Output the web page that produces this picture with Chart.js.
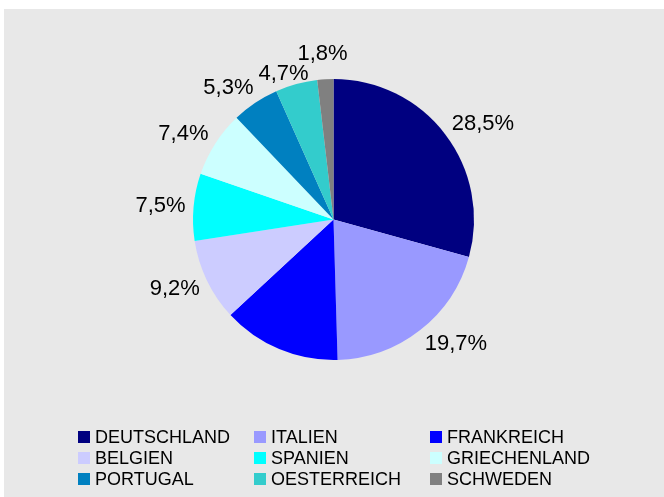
<!DOCTYPE html>
<html>
<head>
<meta charset="utf-8">
<script src="https://cdn.jsdelivr.net/npm/chart.js@4"></script>
<style>
  html, body { margin: 0; padding: 0; background: #fff; }
  #wrap { width: 664px; height: 497px; }
</style>
</head>
<body>
<div id="wrap"><canvas id="pieChart" width="664" height="497"></canvas></div>
<script>
const countries = ["DEUTSCHLAND", "ITALIEN", "FRANKREICH", "BELGIEN", "SPANIEN", "GRIECHENLAND", "PORTUGAL", "OESTERREICH", "SCHWEDEN"];
// shares in %, Frankreich has no label in the original, its size read from the slice
const shares = [28.5, 19.7, 13.2, 9.2, 7.5, 7.4, 5.3, 4.7, 1.8];
const colors = ["#000080", "#9999ff", "#0000ff", "#ccccff", "#00ffff", "#ccffff", "#0080c0", "#33cccc", "#808080"];
const noLabel = ["FRANKREICH"];

const FONT = "'Liberation Sans', Arial, sans-serif";

// grey panel behind everything
const panel = {
    id: "panel",
    beforeDraw(chart) {
        const ctx = chart.ctx;
        ctx.save();
        ctx.fillStyle = "#e8e8e8";
        ctx.fillRect(4, 9, chart.width - 4, chart.height - 9);
        ctx.restore();
    }
};

// percentage labels outside the slices (box hangs off an anchor just outside the rim)
const outsideLabels = {
    id: "outsideLabels",
    afterDatasetsDraw(chart) {
        const ctx = chart.ctx;
        const meta = chart.getDatasetMeta(0);
        ctx.save();
        ctx.font = "22px " + FONT;
        ctx.fillStyle = "#000";
        ctx.textAlign = "center";
        ctx.textBaseline = "middle";
        const boxH = 20;
        const items = [];
        meta.data.forEach((arc, i) => {
            if (noLabel.includes(chart.data.labels[i])) return;
            const p = arc.getProps(["x", "y", "startAngle", "endAngle", "outerRadius"], true);
            const mid = (p.startAngle + p.endAngle) / 2;
            const txt = shares[i].toFixed(1).replace(".", ",") + "%";
            const w = ctx.measureText(txt).width;
            const c = Math.cos(mid), s = Math.sin(mid);
            const r = p.outerRadius + 8;
            const kx = Math.max(-1, Math.min(1, c * 1.6));
            items.push({
                txt, w,
                x: p.x + r * c + kx * w / 2,
                y: p.y + r * s + s * boxH / 2
            });
        });
        // push neighbouring labels apart if they collide
        for (let pass = 0; pass < 4; pass++) {
            for (let k = 1; k < items.length; k++) {
                const a = items[k - 1], b = items[k];
                const xOver = Math.abs(a.x - b.x) < (a.w + b.w) / 2 + 4;
                const gap = Math.abs(a.y - b.y);
                if (xOver && gap < boxH) {
                    const d = (boxH - gap) / 2;
                    if (a.y >= b.y) { a.y += d; b.y -= d; } else { a.y -= d; b.y += d; }
                }
            }
        }
        items.forEach(it => ctx.fillText(it.txt, it.x, it.y));
        ctx.restore();
    }
};

// three-column legend at the bottom
const gridLegend = {
    id: "gridLegend",
    afterDraw(chart) {
        const ctx = chart.ctx;
        const colX = [78, 254, 430];
        const rowY = [437, 458, 479];
        ctx.save();
        ctx.font = "18px " + FONT;
        ctx.textBaseline = "middle";
        ctx.textAlign = "left";
        chart.data.labels.forEach((lab, i) => {
            const x = colX[i % 3];
            const y = rowY[Math.floor(i / 3)];
            ctx.fillStyle = chart.data.datasets[0].backgroundColor[i];
            ctx.fillRect(x, y - 6, 12, 12);
            ctx.fillStyle = "#000";
            ctx.fillText(lab, x + 17, y + 1);
        });
        ctx.restore();
    }
};

new Chart(document.getElementById("pieChart"), {
    type: "pie",
    data: {
        labels: countries,
        datasets: [{
            data: shares,
            backgroundColor: colors,
            borderWidth: 0,
            hoverOffset: 0
        }]
    },
    options: {
        responsive: false,
        animation: false,
        layout: { padding: { top: 79, bottom: 137, left: 193, right: 190 } },
        plugins: {
            legend: { display: false },
            tooltip: { enabled: false }
        }
    },
    plugins: [panel, outsideLabels, gridLegend]
});
</script>
</body>
</html>
